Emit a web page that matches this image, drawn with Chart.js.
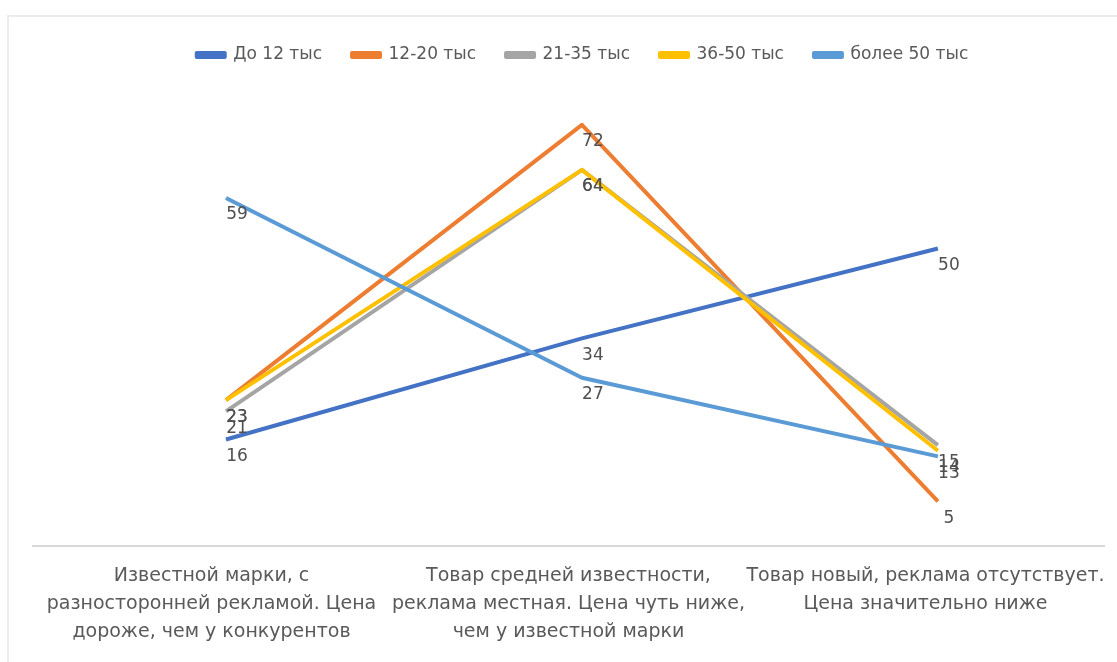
<!DOCTYPE html>
<html>
<head>
<meta charset="utf-8">
<script src="https://cdn.jsdelivr.net/npm/chart.js@4/dist/chart.umd.min.js"></script>
<style>
    html, body { margin: 0; padding: 0; background: #fff; }
    .frame {
        position: absolute; left: 7px; top: 15px; width: 1200px; height: 700px;
        border-left: 2px solid #ececec; border-top: 2px solid #ececec;
    }
    #chart { position: absolute; left: 0; top: 0; }
</style>
</head>
<body>
<div class="frame"></div>
<canvas id="chart" width="1117" height="662"></canvas>
<script>
// Categories (x axis)
const categories = [
    ['Известной марки, с', 'разносторонней рекламой. Цена', 'дороже, чем у конкурентов'],
    ['Товар средней известности,', 'реклама местная. Цена чуть ниже,', 'чем у известной марки'],
    ['Товар новый, реклама отсутствует.', 'Цена значительно ниже']
];

// Series
const seriesNames = ['До 12 тыс', '12-20 тыс', '21-35 тыс', '36-50 тыс', 'более 50 тыс'];
const seriesColors = ['#4472C4', '#ED7D31', '#A5A5A5', '#FFC000', '#5B9BD5'];
const upTo12 = [16, 34, 50];
const from12to20 = [23, 72, 5];
const from21to35 = [21, 64, 15];
const from36to50 = [23, 64, 14];
const over50 = [59, 27, 13];
const seriesValues = [upTo12, from12to20, from21to35, from36to50, over50];

const textColor = '#595959';
const fontFamily = '"DejaVu Sans", "Open Sans", sans-serif';

/**
 * Value labels drawn just below each point (like Excel "below")
 */
const pointLabels = {
    id: 'pointLabels',
    afterDatasetsDraw(chart) {
        const ctx = chart.ctx;
        ctx.save();
        ctx.font = '17px ' + fontFamily;
        ctx.fillStyle = '#505050';
        ctx.textAlign = 'center';
        ctx.textBaseline = 'middle';
        chart.data.datasets.forEach((ds, i) => {
            const meta = chart.getDatasetMeta(i);
            meta.data.forEach((pt, j) => {
                ctx.fillText(String(ds.data[j].y), pt.x + 11, pt.y + 17);
            });
        });
        ctx.restore();
    }
};

/**
 * Extra gap under the legend and a small shift to the right
 */
const legendTweak = {
    id: 'legendTweak',
    beforeInit(chart) {
        const fit = chart.legend.fit;
        chart.legend.fit = function() {
            fit.bind(chart.legend)();
            this.height += 6.5;
        };
    },
    afterLayout(chart) {
        chart.legend.left += 14;
        chart.legend.right += 14;
    }
};

const datasets = seriesNames.map((name, i) => ({
    label: name,
    data: seriesValues[i].map((v, j) => ({ x: j, y: v })),
    borderColor: seriesColors[i],
    backgroundColor: seriesColors[i],
    borderWidth: 4,
    borderJoinStyle: 'round',
    pointRadius: 0,
    tension: 0,
    xAxisID: 'xp',
    order: seriesNames.length - 1 - i
}));

new Chart(document.getElementById('chart').getContext('2d'), {
    type: 'line',
    data: { labels: categories, datasets: datasets },
    plugins: [pointLabels, legendTweak],
    options: {
        responsive: false,
        animation: false,
        layout: { padding: { left: 33, right: 13, top: 16.5, bottom: 8 } },
        plugins: {
            legend: {
                position: 'top',
                labels: {
                    boxWidth: 28,
                    boxHeight: 4,
                    padding: 30,
                    color: textColor,
                    font: { family: fontFamily, size: 17 },
                    sort: (a, b) => a.datasetIndex - b.datasetIndex
                }
            },
            tooltip: { enabled: false }
        },
        scales: {
            x: {
                type: 'category',
                offset: true,
                grid: { display: false },
                border: { display: true, color: '#d9d9d9', width: 2 },
                ticks: {
                    color: textColor,
                    font: { family: fontFamily, size: 19, lineHeight: 1.47 },
                    maxRotation: 0,
                    autoSkip: false,
                    padding: 8
                }
            },
            xp: {
                type: 'linear',
                display: false,
                min: -0.542,
                max: 2.4665
            },
            y: {
                display: false,
                min: -3,
                max: 80
            }
        }
    }
});
</script>
</body>
</html>
